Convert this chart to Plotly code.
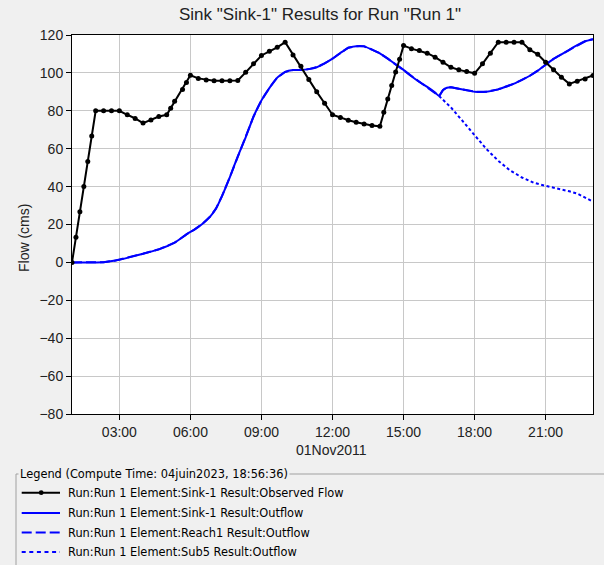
import plotly.graph_objects as go
import pandas as pd

DAY = "2011-11-01 "

# Observed flow (Sink-1)
obs_time = ["01:00", "01:10", "01:20", "01:30", "01:40", "01:50", "02:00", "02:20", "02:40", "03:00",
            "03:20", "03:40", "04:00", "04:20", "04:40", "05:00", "05:10", "05:20", "05:40", "05:50",
            "06:00", "06:20", "06:40", "07:00", "07:20", "07:40", "08:00", "08:20", "08:40", "09:00",
            "09:20", "09:40", "10:00", "10:20", "10:40", "11:00", "11:20", "11:40", "12:00", "12:20",
            "12:40", "13:00", "13:20", "13:40", "14:00", "14:10", "14:20", "14:30", "14:40", "14:50",
            "15:00", "15:20", "15:40", "16:00", "16:20", "16:40", "17:00", "17:20", "17:40", "18:00",
            "18:20", "18:40", "19:00", "19:20", "19:40", "20:00", "20:20", "20:40", "21:00", "21:20",
            "21:40", "22:00", "22:20", "22:40", "23:00"]
obs_flow = [0, 13.3, 26.7, 40, 53.3, 66.7, 80, 80, 80, 80,
            77.9, 76.0, 73.5, 75.1, 77.0, 77.9, 81.3, 85.0, 91.3, 94.9,
            98.7, 97.1, 96.3, 95.8, 95.8, 95.8, 96.0, 100.3, 104.8, 109.2,
            111.4, 113.5, 116.2, 109.5, 103.5, 96.5, 90.0, 84.0, 77.9, 76.5,
            75.0, 74.0, 73.0, 72.3, 71.8, 79.2, 86.2, 93.3, 100.5, 107.2,
            114.4, 112.8, 111.8, 110.4, 108.3, 105.6, 103.0, 101.6, 100.8, 99.8,
            104.8, 110.4, 116.2, 116.2, 116.2, 116.2, 112.2, 109.8, 105.6, 101.6,
            97.7, 94.2, 95.6, 96.8, 98.6]

# Sink-1 outflow (simulated)
out_time = ["01:00", "02:20", "02:50", "03:20", "04:00", "04:40", "05:20", "05:50", "06:10", "06:30",
            "06:50", "07:05", "07:20", "07:40", "08:00", "08:20", "08:40", "09:00", "09:20", "09:40",
            "10:00", "10:20", "10:40", "11:00", "11:20", "11:40", "12:00", "12:20", "12:40", "13:00",
            "13:20", "13:40", "14:00", "14:20", "14:40", "15:00", "15:20", "15:40", "16:00", "16:20",
            "16:30", "16:40", "16:50", "17:00", "17:20", "17:40", "18:00", "18:30", "19:00", "19:20",
            "19:40", "20:00", "20:20", "20:40", "21:00", "21:20", "21:40", "22:00", "22:20", "22:40",
            "23:00"]
out_flow = [0, 0.1, 1.0, 2.4, 4.6, 6.9, 10.4, 14.8, 17.3, 20.3,
            24.2, 28.5, 35.0, 45.0, 56.0, 66.0, 77.0, 85.5, 92.0, 97.5,
            100.5, 101.5, 101.5, 102.0, 103.0, 105.0, 107.5, 110.5, 113.3, 114.1,
            114.0, 112.3, 110.3, 107.5, 104.5, 101.6, 98.2, 95.2, 92.6, 89.6,
            87.8, 91.0, 92.2, 92.4, 91.6, 90.8, 90.1, 90.1, 91.3, 92.8,
            94.3, 96.3, 98.5, 101.2, 104.3, 107.4, 109.8, 112.2, 114.6, 116.7,
            117.8]

# Reach1 outflow (drawn beneath the Sink-1 outflow, coincident)
reach_time = out_time
reach_flow = out_flow

# Sub5 outflow (departs from the Sink-1 curve at 16:30)
sub5_time = ["16:30", "17:00", "17:30", "18:00", "18:30", "19:00", "19:30", "20:00", "20:30", "21:00",
             "21:30", "22:00", "22:20", "22:40", "23:00"]
sub5_flow = [87.8, 81.8, 74.5, 67.2, 59.8, 53.6, 48.5, 44.8, 42.0, 40.4,
             39.1, 37.5, 36.3, 34.3, 32.1]

tick_labels = ["03:00", "06:00", "09:00", "12:00", "15:00", "18:00", "21:00"]
y_ticks = list(range(-80, 121, 20))

legend_names = ["Run:Run 1 Element:Sink-1 Result:Observed Flow",
                "Run:Run 1 Element:Sink-1 Result:Outflow",
                "Run:Run 1 Element:Reach1 Result:Outflow",
                "Run:Run 1 Element:Sub5 Result:Outflow"]
legend_title = "Legend (Compute Time: 04juin2023, 18:56:36)"
title_text = 'Sink "Sink-1" Results for Run "Run 1"'


def to_dt(ts):
    return pd.to_datetime([DAY + t for t in ts])


W_PX, H_PX = 604, 565
PL, PR, PT, PB = 72, 593, 35, 414


def px(x):
    return (x - PL) / (PR - PL)


def py(y):
    return (PB - y) / (PB - PT)


BLUE = "#0000ff"
fig = go.Figure()
fig.add_trace(go.Scatter(x=to_dt(sub5_time), y=sub5_flow, mode="lines", name=legend_names[3],
                         line=dict(color=BLUE, width=2, dash="3px,2.5px"), showlegend=False))
fig.add_trace(go.Scatter(x=to_dt(reach_time), y=reach_flow, mode="lines", name=legend_names[2],
                         line=dict(color=BLUE, width=2, dash="10px,4px"), showlegend=False))
fig.add_trace(go.Scatter(x=to_dt(out_time), y=out_flow, mode="lines", name=legend_names[1],
                         line=dict(color=BLUE, width=2, shape="spline", smoothing=0.4),
                         showlegend=False))
fig.add_trace(go.Scatter(x=to_dt(obs_time), y=obs_flow, mode="lines+markers", name=legend_names[0],
                         line=dict(color="black", width=2),
                         marker=dict(color="black", size=5), showlegend=False))

AX_FONT = dict(family="Liberation Sans, Arial", size=14, color="#222222")
fig.update_xaxes(type="date", range=[DAY + "01:00", DAY + "23:00"],
                 tickvals=to_dt(tick_labels), ticktext=tick_labels,
                 ticks="outside", ticklen=5, tickcolor="black",
                 showline=True, linecolor="black", linewidth=1, mirror=True,
                 showgrid=True, gridcolor="#c8c8c8", gridwidth=1,
                 tickfont=AX_FONT, zeroline=False)
fig.update_yaxes(range=[-80, 120], tickvals=y_ticks,
                 ticks="outside", ticklen=5, tickcolor="black",
                 showline=True, linecolor="black", linewidth=1, mirror=True,
                 showgrid=True, gridcolor="#c8c8c8", gridwidth=1,
                 tickfont=AX_FONT, zeroline=False)

LEG_FONT = dict(family="DejaVu Sans", size=11.4, color="black")
rows = [492.7, 513.0, 532.6, 552.0]
shapes = []
annotations = []
# group box of the legend
shapes.append(dict(type="rect", xref="paper", yref="paper", x0=px(16), x1=px(650),
                   y0=py(474), y1=py(620), line=dict(color="#a0a0a0", width=1)))
annotations.append(dict(xref="paper", yref="paper", x=px(18), y=py(474), text=legend_title,
                        showarrow=False, xanchor="left", yanchor="middle", font=LEG_FONT,
                        bgcolor="#f0f0f0", borderpad=1))
styles = [dict(color="black", width=2), dict(color=BLUE, width=2),
          dict(color=BLUE, width=2, dash="10px,4px"), dict(color=BLUE, width=2, dash="4px,3.6px")]
for r, name, st in zip(rows, legend_names, styles):
    shapes.append(dict(type="line", xref="paper", yref="paper", x0=px(21.7), x1=px(60),
                       y0=py(r), y1=py(r), line=st))
    annotations.append(dict(xref="paper", yref="paper", x=px(66), y=py(r), text=name,
                            showarrow=False, xanchor="left", yanchor="middle", font=LEG_FONT))
shapes.append(dict(type="circle", xref="paper", yref="paper", x0=px(38.8), x1=px(43.6),
                   y0=py(rows[0] - 2.4), y1=py(rows[0] + 2.4), fillcolor="black",
                   line=dict(color="black", width=0)))

# axis titles and chart title
annotations.append(dict(xref="paper", yref="paper", x=px(331), y=py(450), text="01Nov2011",
                        showarrow=False, xanchor="center", yanchor="middle", font=AX_FONT))
annotations.append(dict(xref="paper", yref="paper", x=px(24), y=py(238), text="Flow (cms)",
                        showarrow=False, xanchor="center", yanchor="middle", textangle=-90,
                        font=AX_FONT))
annotations.append(dict(xref="paper", yref="paper", x=px(320), y=py(14), text=title_text,
                        showarrow=False, xanchor="center", yanchor="middle",
                        font=dict(family="Liberation Sans, Arial", size=17, color="#222222")))

fig.update_layout(width=W_PX, height=H_PX, autosize=False,
                  margin=dict(l=PL, r=W_PX - PR, t=PT, b=H_PX - PB, pad=0),
                  paper_bgcolor="#f0f0f0", plot_bgcolor="white",
                  shapes=shapes, annotations=annotations, showlegend=False,
                  hovermode=False)

fig.write_html("out.html", config={"displayModeBar": False, "staticPlot": True},
               post_script="document.body.style.margin='0px';document.body.style.overflow='hidden';")
